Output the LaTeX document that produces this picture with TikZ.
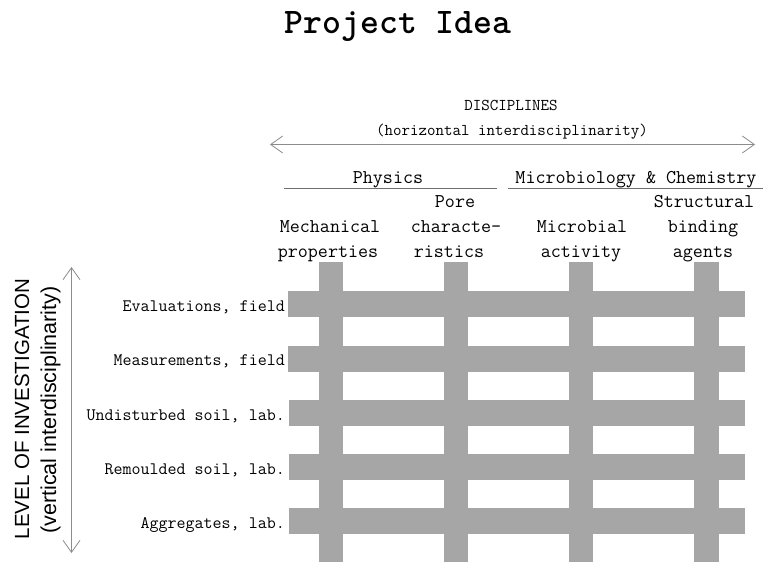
\documentclass[tikz,border=0pt]{standalone}
\usepackage{fontspec}
\usepackage{tikz}
\usetikzlibrary{arrows.meta}
\newfontfamily\sidefont{Liberation Sans}
\definecolor{bargray}{RGB}{166,166,166}
\definecolor{arrowgray}{RGB}{140,140,140}
\definecolor{rulegray}{RGB}{110,110,110}

\begin{document}
\begin{tikzpicture}[x=1pt, y=-1pt,
			bar/.style = {fill=bargray},
			row/.style = {anchor=base east, inner sep=0pt, font=\ttfamily\fontsize{17.5}{20}\selectfont},
			head/.style = {anchor=base, inner sep=0pt, font=\ttfamily\fontsize{19.5}{22}\selectfont},
			side/.style = {anchor=base, inner sep=0pt, rotate=90},
			twoway/.style = {draw=arrowgray, line width=0.8pt, {Straight Barb[length=12pt,width=17pt]}-{Straight Barb[length=12pt,width=17pt]}}]
			\useasboundingbox (0,0) rectangle (763,562);
			
			\node[anchor=base, inner sep=0pt, font=\ttfamily\bfseries\fontsize{36}{40}\selectfont] (t) at (398,33) {Project Idea};
			
			% disciplines
			\node[head, font=\ttfamily\fontsize{16.5}{19}\selectfont] (d1) at (511,110) {DISCIPLINES};
			\node[head, font=\ttfamily\fontsize{16.5}{19}\selectfont] (d2) at (512,135) {(horizontal interdisciplinarity)};
			\coordinate (hl) at (270,144.5);
			\coordinate (hr) at (755,144.5);
			\draw[twoway] (hl) -- (hr);
			
			\node[head] (g1) at (388,183) {Physics};
			\node[head] (g2) at (636,183) {Microbiology \& Chemistry};
			\coordinate (g1l) at (284,188);
			\coordinate (g1r) at (497,188);
			\coordinate (g2l) at (508,188);
			\coordinate (g2r) at (763,188);
			\draw[rulegray, line width=0.8pt] (g1l) -- (g1r);
			\draw[rulegray, line width=0.8pt] (g2l) -- (g2r);
			
			\node[head] (c1a) at (330,232) {Mechanical};
			\node[head] (c1b) at (328,257) {properties};
			\node[head] (c2a) at (455,207) {Pore};
			\node[head] (c2b) at (456,232) {characte-};
			\node[head] (c2c) at (449,257) {ristics};
			\node[head] (c3a) at (582,232) {Microbial};
			\node[head] (c3b) at (581,257) {activity};
			\node[head] (c4a) at (704,207) {Structural};
			\node[head] (c4b) at (703,232) {binding};
			\node[head] (c4c) at (703,257) {agents};
			
			% level of investigation
			\node[side, font=\sidefont\fontsize{20.5}{24}\selectfont] (s1) at (29,409) {LEVEL OF INVESTIGATION};
			\node[side, font=\sidefont\fontsize{21.5}{25}\selectfont] (s2) at (56,410) {(vertical interdisciplinarity)};
			\coordinate (vt) at (71.5,267);
			\coordinate (vb) at (71.5,553);
			\draw[twoway] (vb) -- (vt);
			
			\node[row] (r1) at (285,311) {Evaluations, field};
			\node[row] (r2) at (285,365.5) {Measurements, field};
			\node[row] (r3) at (285,420) {Undisturbed soil, lab.};
			\node[row] (r4) at (285,474) {Remoulded soil, lab.};
			\node[row] (r5) at (285,528) {Aggregates, lab.};
			
			% grid
			\fill[bar] (319,262) rectangle (343,562);
			\fill[bar] (444,262) rectangle (468,562);
			\fill[bar] (569,262) rectangle (593,562);
			\fill[bar] (694,262) rectangle (719,562);
			\fill[bar] (288,291) rectangle (745,317);
			\fill[bar] (288,346) rectangle (745,372);
			\fill[bar] (289,400) rectangle (745,426);
			\fill[bar] (289,454) rectangle (745,480);
			\fill[bar] (289,508) rectangle (745,534);
			
\end{tikzpicture}
\end{document}
